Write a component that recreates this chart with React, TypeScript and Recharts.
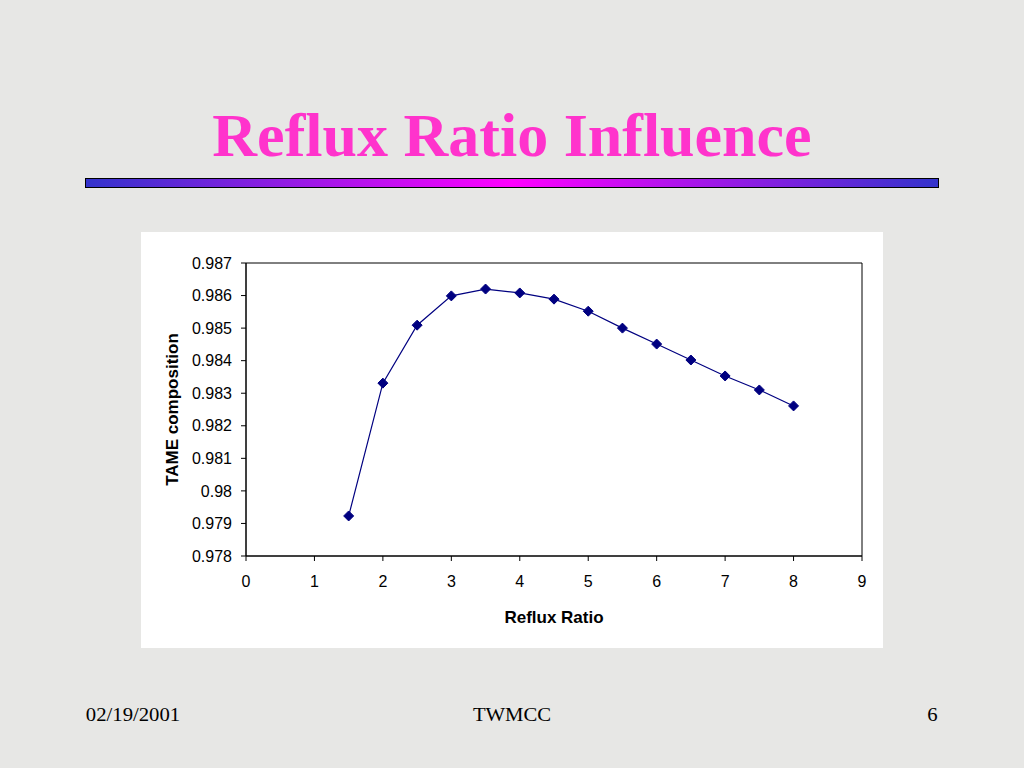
import React from "react";
import {
  LineChart,
  Line,
  XAxis,
  YAxis,
  ReferenceArea,
} from "recharts";

const refluxRatio = [1.5, 2, 2.5, 3, 3.5, 4, 4.5, 5, 5.5, 6, 6.5, 7, 7.5, 8];
const tameComposition = [
  0.97923, 0.98331, 0.98509, 0.98599, 0.9862, 0.98608, 0.98589, 0.98552,
  0.985, 0.98451, 0.98402, 0.98353, 0.9831, 0.98261,
];
const xTicks = [0, 1, 2, 3, 4, 5, 6, 7, 8, 9];
const yTicks = [0.978, 0.979, 0.98, 0.981, 0.982, 0.983, 0.984, 0.985, 0.986, 0.987];

const chartData = refluxRatio.map((r, i) => ({ r, v: tameComposition[i] }));

const NAVY = "#000080";
const sans = "'Liberation Sans', Arial, sans-serif";
const serif = "'Liberation Serif', 'Times New Roman', serif";
const tickFont = { fontFamily: sans, fontSize: 16, fill: "#000" };
const labelFont = { fontFamily: sans, fontSize: 17, fontWeight: "bold", fill: "#000" };

// diamond marker drawn at the point the line gives us
function Diamond(props: any) {
  const { cx, cy, index } = props;
  if (cx == null || cy == null) return null;
  const s = 5;
  return (
    <polygon
      key={index}
      points={`${cx},${cy - s} ${cx + s},${cy} ${cx},${cy + s} ${cx - s},${cy}`}
      fill={NAVY}
      stroke={NAVY}
    />
  );
}

const footer: React.CSSProperties = {
  position: "absolute",
  top: 705,
  fontFamily: serif,
  fontSize: 18,
  color: "#000",
  transform: "scaleX(1.15)",
};

export default function App() {
  return (
    <div
      style={{
        position: "fixed",
        left: 0,
        top: 0,
        width: 1024,
        height: 768,
        background: "#e7e7e5",
        overflow: "hidden",
      }}
    >
      <div
        style={{
          position: "absolute",
          left: 0,
          width: 1024,
          top: 96,
          textAlign: "center",
          fontFamily: serif,
          fontWeight: "bold",
          fontSize: 62,
          color: "#ff33cc",
          lineHeight: "78px",
        }}
      >
        Reflux Ratio Influence
      </div>
      <div
        style={{
          position: "absolute",
          left: 85,
          top: 178,
          width: 852,
          height: 8,
          border: "1px solid #000",
          background: "linear-gradient(to right, #3333cc, #ff00ff 50%, #3333cc)",
        }}
      />
      <div
        style={{
          position: "absolute",
          left: 141,
          top: 232,
          width: 742,
          height: 416,
          background: "#fff",
        }}
      >
        <LineChart
          width={742}
          height={416}
          data={chartData}
          margin={{ top: 31, right: 21, left: 0, bottom: 0 }}
        >
          <XAxis
            dataKey="r"
            type="number"
            domain={[0, 9]}
            ticks={xTicks}
            interval={0}
            height={92}
            tickSize={5}
            tickMargin={15}
            tick={tickFont}
            stroke="#000"
            label={{
              value: "Reflux Ratio",
              position: "insideBottom",
              offset: 25,
              style: labelFont,
            }}
          />
          <YAxis
            type="number"
            domain={[0.978, 0.987]}
            ticks={yTicks}
            interval={0}
            width={105}
            tickSize={5}
            tickMargin={9}
            tick={tickFont}
            stroke="#000"
            allowDataOverflow
            label={{
              value: "TAME composition",
              angle: -90,
              position: "insideLeft",
              offset: 31,
              style: { ...labelFont, textAnchor: "middle" },
            }}
          />
          <ReferenceArea
            x1={0}
            x2={9}
            y1={0.978}
            y2={0.987}
            fill="none"
            stroke="#000"
            strokeWidth={1}
            ifOverflow="visible"
          />
          <Line
            type="linear"
            dataKey="v"
            stroke={NAVY}
            strokeWidth={1.2}
            dot={Diamond}
            activeDot={false}
            isAnimationActive={false}
          />
        </LineChart>
      </div>
      <div style={{ ...footer, left: 92 }}>02/19/2001</div>
      <div style={{ ...footer, left: 0, width: 1024, textAlign: "center" }}>TWMCC</div>
      <div style={{ ...footer, left: 928 }}>6</div>
    </div>
  );
}
